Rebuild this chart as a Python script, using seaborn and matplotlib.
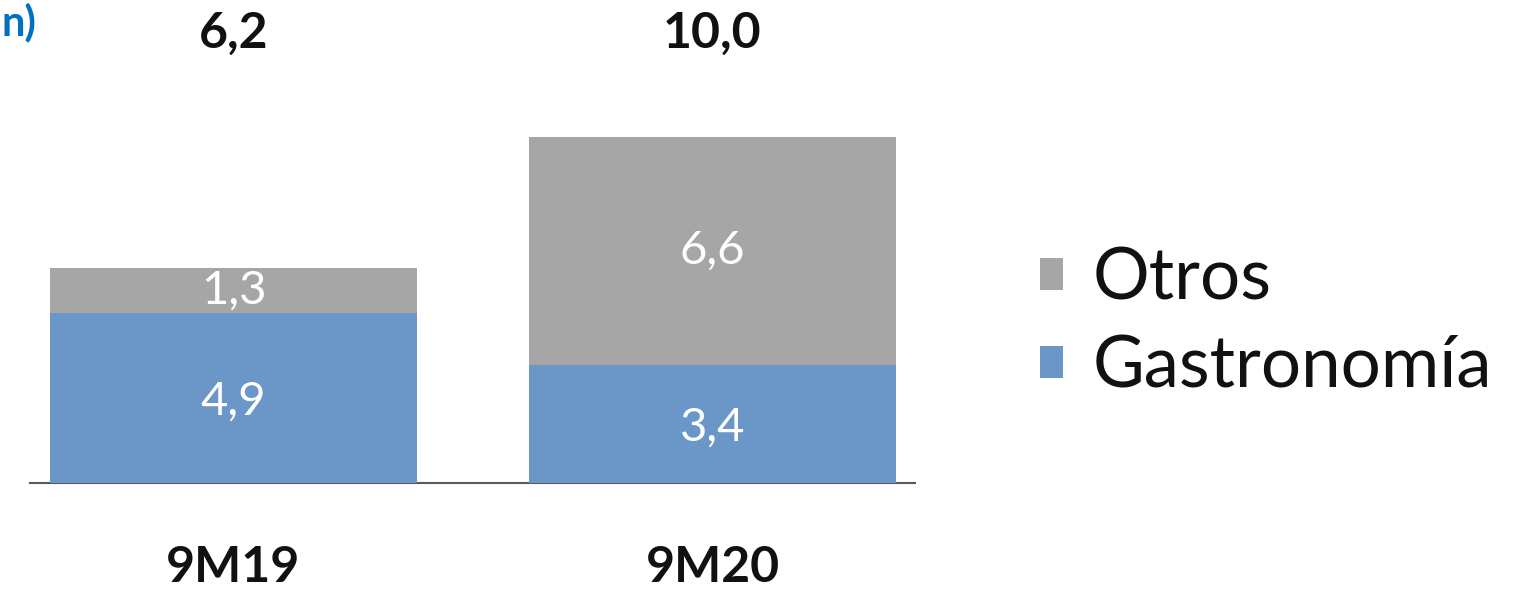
import matplotlib
matplotlib.use("Agg")
import matplotlib.pyplot as plt
import seaborn as sns
import pandas as pd
from matplotlib.patches import Patch

categories = ["9M19", "9M20"]
gastronomia = [4.9, 3.4]
otros = [1.3, 6.6]
totals = [6.2, 10.0]
series_names = ["Otros", "Gastronomía"]

sns.set_theme(style="white")
plt.rcParams["font.family"] = ["Lato", "DejaVu Sans"]

BLUE = "#6A96C8"
GREY = "#A6A6A6"

W, H, DPI = 1536, 589, 100
fig = plt.figure(figsize=(W / DPI, H / DPI), dpi=DPI)
fig.patch.set_facecolor("white")

# axes placed in pixel geometry
x0, x1 = 30, 915
base_y = 483
ax = fig.add_axes([x0 / W, (H - base_y) / H, (x1 - x0) / W, base_y / H])

df = pd.DataFrame({
    "cat": categories,
    "Gastronomía": gastronomia,
    "Otros": otros,
})
df["stack"] = df["Gastronomía"] + df["Otros"]

sns.barplot(data=df, x="cat", y="stack", color=GREY, saturation=1,
            width=0.766, ax=ax, linewidth=0)
sns.barplot(data=df, x="cat", y="Gastronomía", color=BLUE, saturation=1,
            width=0.766, ax=ax, linewidth=0)

px_per_unit = 34.6
ax.set_ylim(0, base_y / px_per_unit)
ax.set_xlim(-0.4248, 1.4228)

for s in ["top", "right", "left"]:
    ax.spines[s].set_visible(False)
ax.spines["bottom"].set_color("#595959")
ax.spines["bottom"].set_linewidth(1.5)
ax.spines["bottom"].set_zorder(0)
ax.set_xticks([])
ax.set_yticks([])
ax.set_xlabel("")
ax.set_ylabel("")
ax.patch.set_alpha(0)

for i in range(len(categories)):
    g = gastronomia[i]
    o = otros[i]
    ax.text(i, g / 2 - 0.1, f"{g:.1f}".replace(".", ","), ha="center", va="center",
            color="white", fontsize=34, fontweight="normal")
    ax.text(i, g + o / 2, f"{o:.1f}".replace(".", ","), ha="center", va="center",
            color="white", fontsize=34, fontweight="normal")
    ax.text(i, (base_y - 33) / px_per_unit, f"{totals[i]:.1f}".replace(".", ","),
            ha="center", va="center", color="#111111", fontsize=36,
            fontweight="bold", clip_on=False)
    ax.text(i, (base_y - 567) / px_per_unit, categories[i], ha="center",
            va="center", color="#111111", fontsize=36, fontweight="bold",
            clip_on=False)

# title fragment at top-left
fig.text(2 / W, 1 - 3 / H, "n)", ha="left", va="top",
         color="#0070C0", fontsize=30, fontweight="bold")

handles = [Patch(facecolor=GREY, edgecolor="none"),
           Patch(facecolor=BLUE, edgecolor="none")]
leg = fig.legend(handles, series_names, loc="center left",
                 bbox_to_anchor=(1040 / W, 1 - 323 / H), frameon=False,
                 fontsize=51, handlelength=0.32, handleheight=0.32,
                 handletextpad=0.42, labelspacing=0.32, borderaxespad=0,
                 borderpad=0)
for t in leg.get_texts():
    t.set_color("#111111")
    t.set_fontweight("normal")

fig.savefig("out.png", dpi=DPI, facecolor="white")
